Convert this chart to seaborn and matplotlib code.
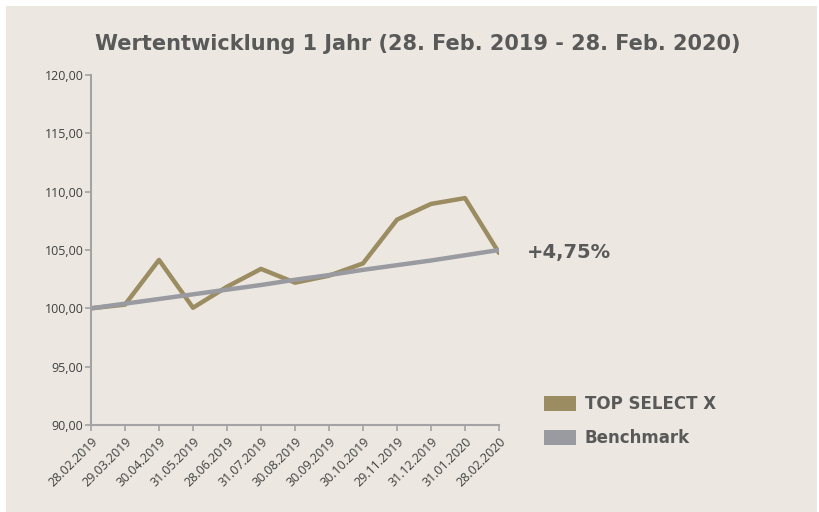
import pandas as pd
import matplotlib
matplotlib.use("Agg")
import matplotlib.pyplot as plt
import matplotlib.patches as mpatches
import seaborn as sns

dates = ["28.02.2019", "29.03.2019", "30.04.2019", "31.05.2019", "28.06.2019",
         "31.07.2019", "30.08.2019", "30.09.2019", "30.10.2019", "29.11.2019",
         "31.12.2019", "31.01.2020", "28.02.2020"]
top_select = [100.0, 100.32, 104.15, 100.05, 101.85, 103.38, 102.2,
              102.8, 103.85, 107.6, 108.95, 109.45, 104.75]
benchmark = [100.0, 100.4, 100.8, 101.2, 101.6, 102.0, 102.45,
             102.85, 103.3, 103.7, 104.1, 104.55, 105.0]
series_names = ["TOP SELECT X", "Benchmark"]
colors = ["#9B8C61", "#9A9BA0"]
title = "Wertentwicklung 1 Jahr (28. Feb. 2019 - 28. Feb. 2020)"
perf_label = "+4,75%"

sns.set_style("white")
plt.rcParams["font.family"] = ["Open Sans", "DejaVu Sans"]

bg = "#ECE8E1"
text_col = "#595959"

df = pd.DataFrame({
    "pos": list(range(len(dates))) * 2,
    "value": top_select + benchmark,
    "series": [series_names[0]] * len(dates) + [series_names[1]] * len(dates),
})

fig = plt.figure(figsize=(8.19, 5.12), dpi=100)
fig.patch.set_facecolor("white")
# beige panel with a thin white margin at top/left
fig.patches.append(mpatches.Rectangle((6 / 819, 0), 1 - 8 / 819, 1 - 6 / 512,
                                      transform=fig.transFigure,
                                      facecolor=bg, edgecolor="none", zorder=-10))

ax = fig.add_axes([91 / 819, 1 - 425 / 512, (499 - 91) / 819, 350 / 512])
ax.set_facecolor("none")

sns.lineplot(
    data=df,
    x="pos",
    y="value",
    hue="series",
    hue_order=series_names,
    palette=colors,
    linewidth=3.2,
    legend=False,
    ax=ax,
)

ax.set_xlim(0, len(dates) - 1)
ax.set_ylim(90, 120)
yticks = [90, 95, 100, 105, 110, 115, 120]
ax.set_yticks(yticks)
ax.set_yticklabels([f"{v:.2f}".replace(".", ",") for v in yticks])
ax.set_xticks(range(len(dates)))
ax.set_xticklabels(dates, rotation=45, ha="right", rotation_mode="anchor")
ax.set_xlabel("")
ax.set_ylabel("")

for s in ["top", "right"]:
    ax.spines[s].set_visible(False)
for s in ["left", "bottom"]:
    ax.spines[s].set_color("#A3A3A6")
    ax.spines[s].set_linewidth(1.5)

ax.tick_params(axis="both", which="major", direction="out", colors="#A3A3A6",
               labelcolor="#3F3F3F", labelsize=9, length=4, width=1.2,
               bottom=True, left=True)
ax.tick_params(axis="x", pad=3)
ax.tick_params(axis="y", pad=1.5)

fig.text(418 / 819, 1 - 44 / 512, title, ha="center", va="center",
         fontsize=15, fontweight="bold", color=text_col, family=["DejaVu Sans"])

ax.annotate(perf_label, xy=(len(dates) - 1, top_select[-1]), xytext=(20, 0),
            textcoords="offset points", ha="left", va="center",
            fontsize=14, fontweight="bold", color=text_col,
            annotation_clip=False, family=["DejaVu Sans"])

handles = [mpatches.Patch(facecolor=c, edgecolor="none") for c in colors]
leg = fig.legend(handles, series_names, loc="upper left",
                 bbox_to_anchor=(544 / 819, 1 - 395 / 512), frameon=False,
                 borderpad=0, borderaxespad=0,
                 handlelength=1.9, handleheight=1.0, handletextpad=0.55,
                 labelspacing=0.95,
                 prop={"size": 12, "weight": "bold", "family": "DejaVu Sans"})
for t in leg.get_texts():
    t.set_color(text_col)

fig.savefig("out.png", dpi=100, facecolor=fig.get_facecolor())
